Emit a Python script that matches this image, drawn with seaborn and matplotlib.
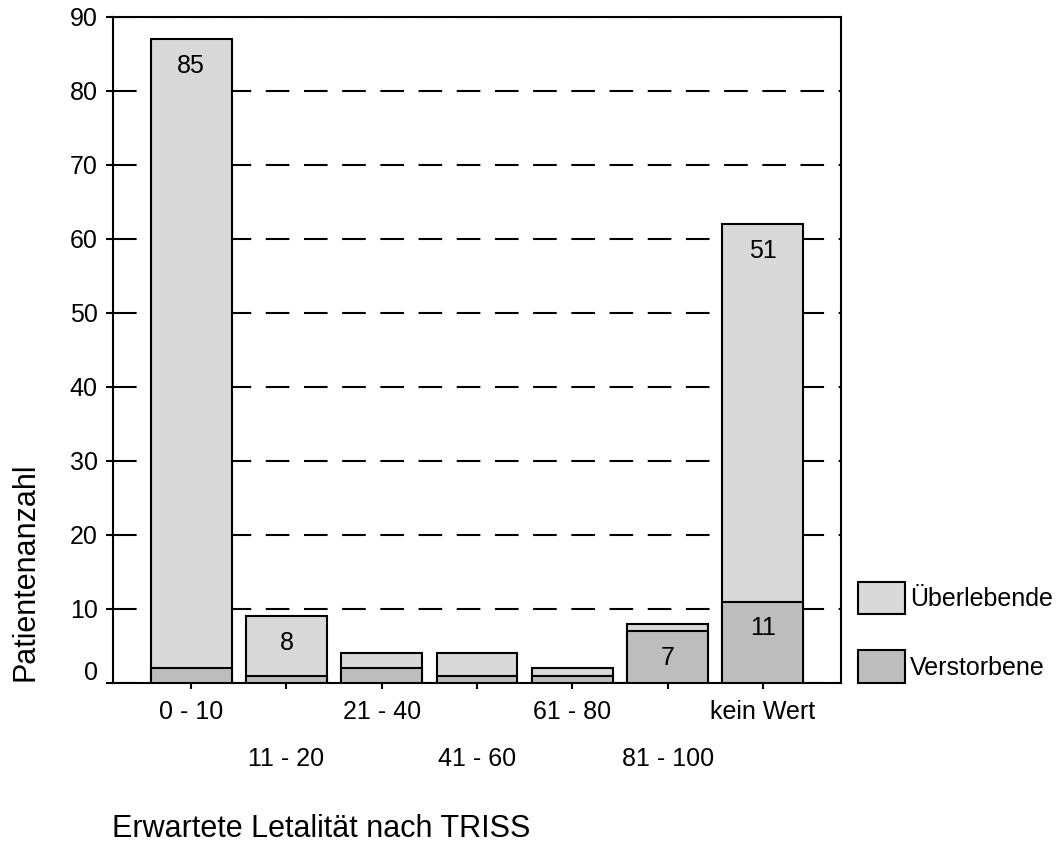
import matplotlib
matplotlib.use("Agg")
import matplotlib.pyplot as plt
import matplotlib.transforms as mtransforms
from matplotlib.patches import Patch
import seaborn as sns
import pandas as pd

categories = ["0 - 10", "11 - 20", "21 - 40", "41 - 60", "61 - 80", "81 - 100", "kein Wert"]
survivors = [85, 8, 2, 3, 1, 1, 51]
deceased = [2, 1, 2, 1, 1, 7, 11]
y_ticks = [0, 10, 20, 30, 40, 50, 60, 70, 80, 90]

LIGHT = "#d9d9d9"
DARK = "#bdbdbd"

sns.set_style("white")
plt.rcParams["font.family"] = ["Liberation Sans", "DejaVu Sans"]
plt.rcParams["lines.scale_dashes"] = False
for k in ["text.color", "axes.labelcolor", "xtick.color", "ytick.color"]:
    plt.rcParams[k] = "black"

df = pd.DataFrame({"cat": categories, "surv": survivors, "dead": deceased})
df["total"] = df["surv"] + df["dead"]

fig = plt.figure(figsize=(10.64, 8.48), dpi=100)
ax = fig.add_axes([113/1064, 1-683/848, (841-113)/1064, (683-17)/848])

sns.barplot(data=df, x="cat", y="total", color=LIGHT, width=0.85, saturation=1,
            edgecolor="black", linewidth=1.5, ax=ax, zorder=3)
sns.barplot(data=df, x="cat", y="dead", color=DARK, width=0.85, saturation=1,
            edgecolor="black", linewidth=1.5, ax=ax, zorder=3)

# value labels
for i, row in df.iterrows():
    if row["surv"] >= 5:
        ax.annotate(str(row["surv"]), (i, row["total"]), xytext=(0, -19),
                    textcoords="offset points", ha="center", va="center", fontsize=18, zorder=5)
    if row["dead"] >= 5:
        ax.annotate(str(row["dead"]), (i, row["dead"]), xytext=(0, -19),
                    textcoords="offset points", ha="center", va="center", fontsize=18, zorder=5)

ax.set_xlim(-0.82, len(categories) - 1 + 0.82)
ax.set_ylim(0, 90)
ax.set_yticks(y_ticks)
ax.set_yticklabels([str(v) for v in y_ticks], fontsize=18)
ax.set_xticks(range(len(categories)))
ax.set_xticklabels(categories, fontsize=18)

ax.yaxis.grid(True, color="black", linewidth=1.5, linestyle=(0, (17, 10.5)), zorder=1)
ax.xaxis.grid(False)
ax.set_axisbelow(True)

for s in ax.spines.values():
    s.set_visible(True)
    s.set_color("black")
    s.set_linewidth(1.5)

ax.tick_params(axis="y", direction="out", length=5, width=1.5, pad=6, left=True)
ax.tick_params(axis="x", direction="out", length=4, width=1.5, pad=8.5, bottom=True)

# stagger x labels into two rows
for k, lab in enumerate(ax.get_xticklabels()):
    if k % 2 == 1:
        lab.set_transform(lab.get_transform() + mtransforms.ScaledTranslation(0, -0.47, fig.dpi_scale_trans))
# raise the "0" label
zl = ax.get_yticklabels()[0]
zl.set_transform(zl.get_transform() + mtransforms.ScaledTranslation(0, 0.13, fig.dpi_scale_trans))

ax.set_ylabel("Patientenanzahl", fontsize=22, va="center", ha="center")
ax.yaxis.set_label_coords((26-113)/728, (683-572)/666)
ax.set_xlabel("Erwartete Letalität nach TRISS", fontsize=22, ha="left", va="center")
ax.xaxis.set_label_coords((112-113)/728, (683-829)/666)

handles = [Patch(facecolor=LIGHT, edgecolor="black", linewidth=1.5, label="Überlebende"),
           Patch(facecolor=DARK, edgecolor="black", linewidth=1.5, label="Verstorbene")]
fig.legend(handles=handles, loc="lower left", bbox_to_anchor=(858/1064, 1-683/848),
           frameon=False, fontsize=18, handlelength=1.87, handleheight=1.63,
           handletextpad=0.2, labelspacing=1.45, borderpad=0, borderaxespad=0)

fig.savefig("out.png", dpi=100)
